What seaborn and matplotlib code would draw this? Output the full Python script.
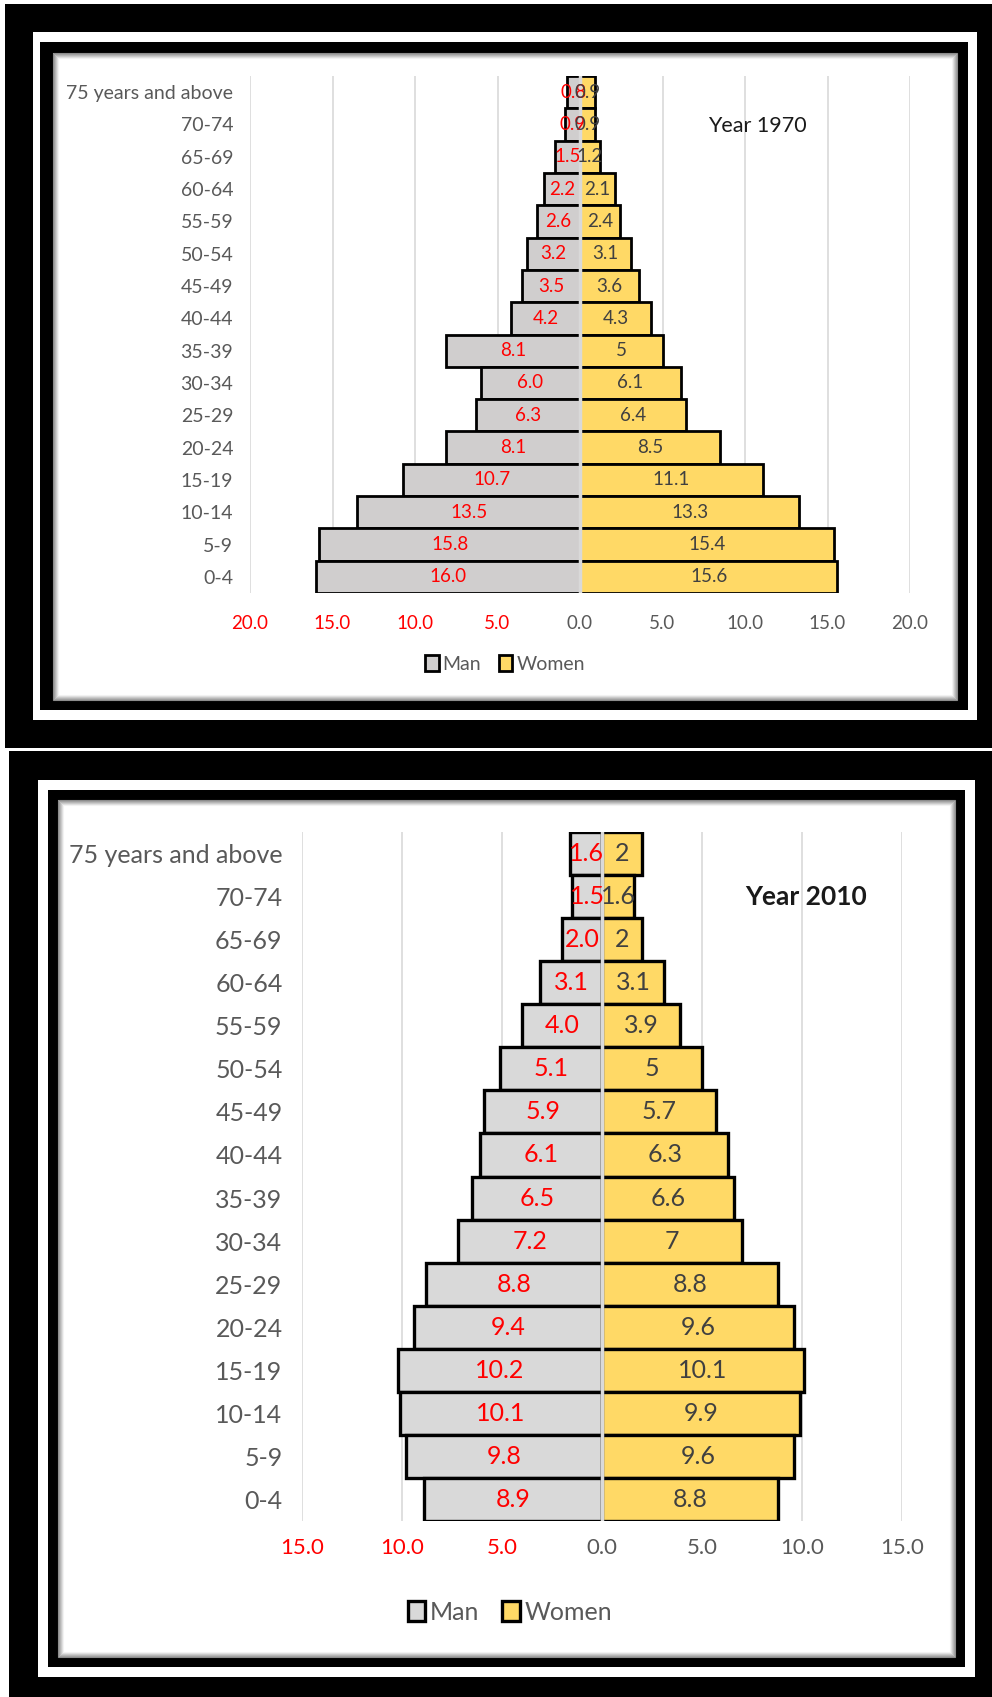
import matplotlib
matplotlib.use('Agg')
import matplotlib.pyplot as plt
from matplotlib.patches import Rectangle, Patch
import seaborn as sns
import numpy as np

sns.set_style('white')
plt.rcParams['font.family'] = ['Lato', 'DejaVu Sans']

age_groups = ['75 years and above', '70-74', '65-69', '60-64', '55-59', '50-54',
              '45-49', '40-44', '35-39', '30-34', '25-29', '20-24', '15-19',
              '10-14', '5-9', '0-4']

man_1970 = [0.8, 0.9, 1.5, 2.2, 2.6, 3.2, 3.5, 4.2, 8.1, 6.0, 6.3, 8.1, 10.7, 13.5, 15.8, 16.0]
women_1970 = [0.9, 0.9, 1.2, 2.1, 2.4, 3.1, 3.6, 4.3, 5, 6.1, 6.4, 8.5, 11.1, 13.3, 15.4, 15.6]

man_2010 = [1.6, 1.5, 2.0, 3.1, 4.0, 5.1, 5.9, 6.1, 6.5, 7.2, 8.8, 9.4, 10.2, 10.1, 9.8, 8.9]
women_2010 = [2, 1.6, 2, 3.1, 3.9, 5, 5.7, 6.3, 6.6, 7, 8.8, 9.6, 10.1, 9.9, 9.6, 8.8]

ticks_1970 = [-20, -15, -10, -5, 0, 5, 10, 15, 20]
ticks_2010 = [-15, -10, -5, 0, 5, 10, 15]

W, H = 992, 1697
RED = '#ff0000'
GREY_TXT = '#595959'
WOMEN_C = '#ffd966'

fig = plt.figure(figsize=(W / 100, H / 100), dpi=100)

# background axes in pixel units for the picture frames
bg = fig.add_axes([0, 0, 1, 1])
bg.set_xlim(0, W)
bg.set_ylim(H, 0)
bg.axis('off')


def rect(x0, y0, x1, y1, color, **kw):
    bg.add_patch(Rectangle((x0, y0), x1 - x0, y1 - y0, facecolor=color, edgecolor='none', **kw))


def frame(outer, white, inner, interior):
    rect(*outer, 'black')
    rect(*white, 'white')
    rect(*inner, 'black')
    rect(*interior, 'white')
    # soft inner shadow
    x0, y0, x1, y1 = interior
    for k in range(6):
        g = 0.55 + 0.08 * k
        bg.add_patch(Rectangle((x0 + k, y0 + k), x1 - x0 - 2 * k, y1 - y0 - 2 * k,
                               facecolor='none', edgecolor=(g, g, g), lw=0.8))


frame((5, 4, 992, 748), (33, 32, 977, 720), (40, 42, 968, 710), (53, 53, 957, 700))
frame((9, 751, 992, 1697), (38, 780, 975, 1677), (48, 790, 965, 1667), (58, 800, 955, 1657))


def px_axes(x0, y0, x1, y1):
    return fig.add_axes([x0 / W, 1 - y1 / H, (x1 - x0) / W, (y1 - y0) / H])


def pyramid(ax, man, women, ticks, man_color, lw, fs_lab, fs_data, fs_tick, pad_y, pad_x):
    sns.barplot(x=[-v for v in man], y=age_groups, color=man_color, saturation=1,
                edgecolor='black', linewidth=lw, width=1.0, ax=ax, zorder=2)
    sns.barplot(x=women, y=age_groups, color=WOMEN_C, saturation=1,
                edgecolor='black', linewidth=lw, width=1.0, ax=ax, zorder=2)
    ax.bar_label(ax.containers[0], labels=['%.1f' % v for v in man], label_type='center',
                 color=RED, fontsize=fs_data, zorder=5)
    ax.bar_label(ax.containers[1], labels=['%g' % v for v in women], label_type='center',
                 color='#404040', fontsize=fs_data, zorder=5)
    ax.axvline(0, color='#d9d9d9', lw=2.5, zorder=3)
    ax.set_xlim(ticks[0], ticks[-1])
    ax.set_ylim(len(age_groups) - 0.5, -0.5)
    ax.set_xticks(ticks)
    ax.set_xticklabels(['%.1f' % abs(t) for t in ticks], fontsize=fs_tick)
    for t, lab in zip(ticks, ax.get_xticklabels()):
        lab.set_color(RED if t < 0 else GREY_TXT)
    ax.tick_params(axis='x', length=0, pad=pad_x)
    ax.tick_params(axis='y', length=0, pad=pad_y, labelsize=fs_lab, labelcolor=GREY_TXT)
    ax.grid(axis='x', color='#d9d9d9', lw=1.2, zorder=0)
    ax.set_axisbelow(True)
    for s in ax.spines.values():
        s.set_visible(False)
    ax.set_xlabel('')
    ax.set_ylabel('')
    ax.patch.set_alpha(0)


ax1 = px_axes(250, 76, 910, 593)
pyramid(ax1, man_1970, women_1970, ticks_1970, '#d0cece', 2.0, 14, 13.5, 13.5, 12, 16)
ax1.text(708, 126, 'Year 1970', transform=bg.transData, fontsize=15.5,
         color='#1a1a1a', va='center', ha='left')

ax2 = px_axes(302, 832, 902, 1521)
pyramid(ax2, man_2010, women_2010, ticks_2010, '#d9d9d9', 2.4, 18, 18, 16, 14, 12)
ax2.text(745, 897, 'Year 2010', transform=bg.transData, fontsize=19, fontweight='bold',
         color='#1a1a1a', va='center', ha='left')


def legend(cx, cy, lw, fs, man_color):
    handles = [Patch(facecolor=man_color, edgecolor='black', lw=lw, label='Man'),
               Patch(facecolor=WOMEN_C, edgecolor='black', lw=lw, label='Women')]
    leg = fig.legend(handles=handles, loc='center', bbox_to_anchor=(cx / W, 1 - cy / H),
                     ncol=2, frameon=False, fontsize=fs, handlelength=0.7, handleheight=0.9,
                     handletextpad=0.2, columnspacing=0.9)
    for t in leg.get_texts():
        t.set_color(GREY_TXT)


legend(505, 664, 2.0, 14, '#d0cece')
legend(510, 1612, 2.4, 18, '#d9d9d9')

fig.savefig('out.png', dpi=100)
